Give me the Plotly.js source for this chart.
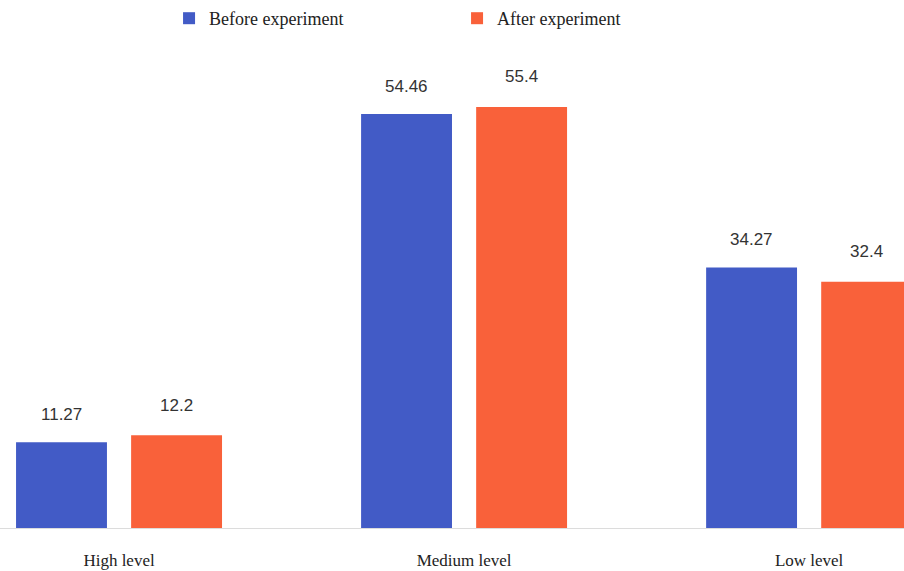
<!DOCTYPE html>
<html>
<head>
<meta charset="utf-8">
<script src="https://cdn.plot.ly/plotly-3.0.1.min.js"></script>
<style>html,body{margin:0;padding:0;background:#fff;}#chart{width:904px;height:571px;}</style>
</head>
<body>
<div id="chart"></div>
<script>
// Share of students at each level, before and after the experiment
const categories = ['High level', 'Medium level', 'Low level'];
const beforeValues = [11.27, 54.46, 34.27];
const afterValues = [12.2, 55.4, 32.4];
const seriesNames = ['Before experiment', 'After experiment'];

const blue = '#425BC6';
const orange = '#F9613A';
const pos = categories.map((_, i) => i);
const half = 0.1667;

const traces = [
  {type: 'bar', name: seriesNames[0], x: pos, y: beforeValues, marker: {color: blue}, hoverinfo: 'y'},
  {type: 'bar', name: seriesNames[1], x: pos, y: afterValues, marker: {color: orange}, hoverinfo: 'y'}
];

// value labels above each bar
const labelFont = {family: 'Liberation Sans, Arial, sans-serif', size: 17, color: '#333'};
const annotations = [];
beforeValues.forEach((v, i) => annotations.push({x: i - half, y: v, xref: 'x', yref: 'y', text: String(v), showarrow: false, yshift: 28, font: labelFont}));
afterValues.forEach((v, i) => annotations.push({x: i + half, y: v, xref: 'x', yref: 'y', text: String(v), showarrow: false, yshift: 30, font: labelFont}));

const serif = 'Liberation Serif, Times New Roman, serif';

const layout = {
  width: 904, height: 571,
  margin: {l: 0, r: 0, t: 40, b: 43},
  paper_bgcolor: '#fff', plot_bgcolor: '#fff',
  barmode: 'group', bargap: 0.333, bargroupgap: 0.21,
  showlegend: true,
  legend: {
    orientation: 'h', x: 0.187, xanchor: 'left', y: 1, yanchor: 'top', yref: 'container',
    entrywidth: 243, entrywidthmode: 'pixels',
    font: {family: serif, size: 18, color: '#222'}
  },
  xaxis: {
    range: [-0.345, 2.275], tickvals: pos, ticktext: categories,
    showgrid: false, zeroline: false, showline: true, linecolor: '#dcdcdc', linewidth: 1,
    ticks: '', ticklabelstandoff: 17,
    tickfont: {family: serif, size: 17, color: '#222'}
  },
  yaxis: {range: [0, 64.2], visible: false, showgrid: false, zeroline: false},
  annotations: annotations
};

Plotly.newPlot('chart', traces, layout, {displayModeBar: false, staticPlot: true});
</script>
</body>
</html>
